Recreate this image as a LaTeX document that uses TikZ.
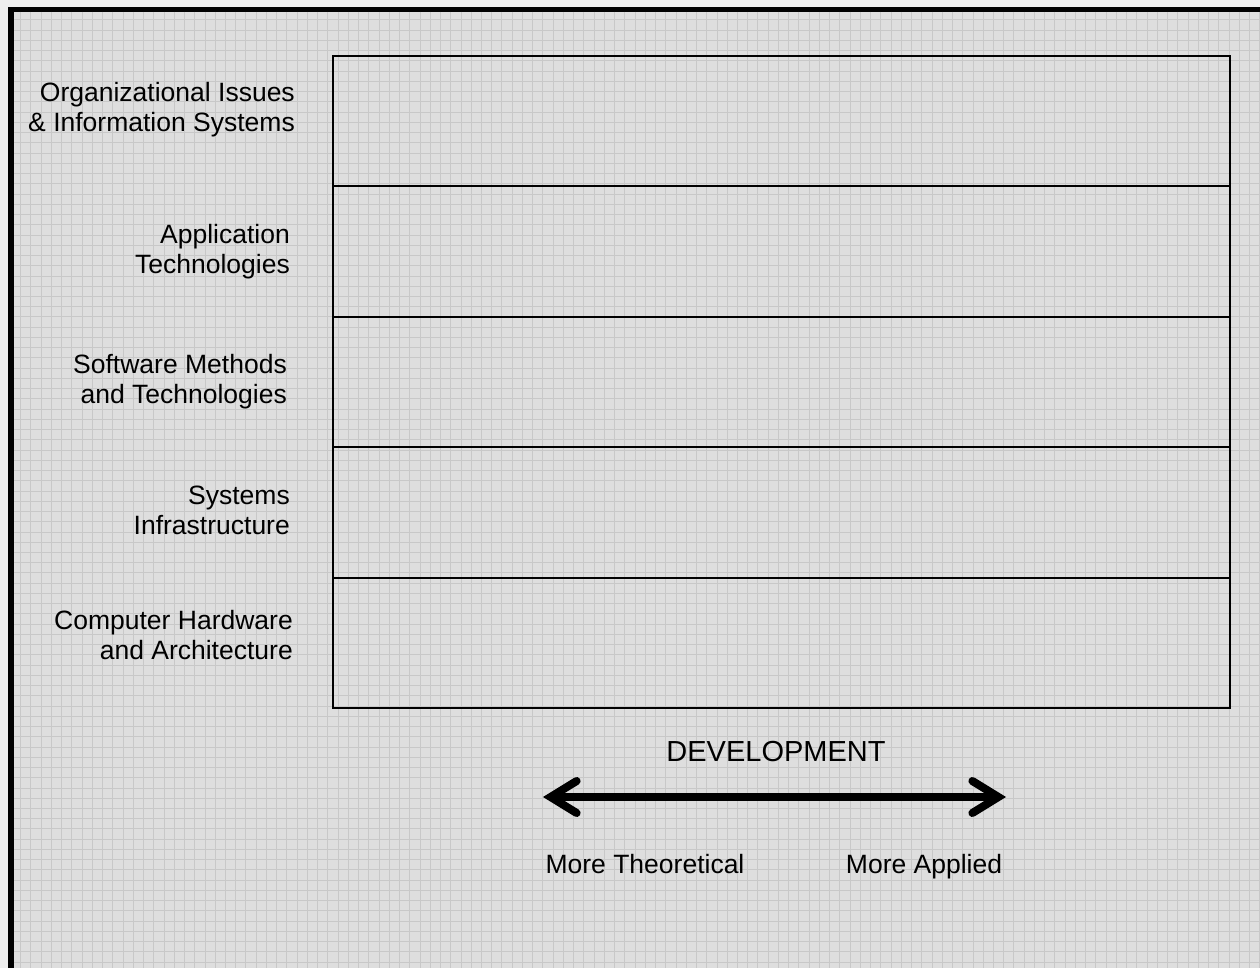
\documentclass[tikz,border=0pt]{standalone}
\usepackage{fontspec}
\setmainfont{Liberation Sans}
\usetikzlibrary{arrows.meta,positioning}
\definecolor{paper}{RGB}{222,222,222}
\definecolor{gridgray}{RGB}{200,200,200}
\definecolor{outside}{RGB}{238,238,238}
\begin{document}
\begin{tikzpicture}
        [x=1pt, y=-1pt,
        fieldrow/.style={draw, line width=2pt, minimum width=897pt, minimum height=130.4pt, inner sep=0pt, outer sep=0pt},
        fieldname/.style={align=right, anchor=east, inner sep=0pt, font=\fontsize{26.5}{30}\selectfont},
        axisword/.style={anchor=base, inner sep=0pt, font=\fontsize{26.5}{30}\selectfont},
        gridline/.style={draw=gridgray, line width=1pt}]
        \useasboundingbox (0,0) rectangle (1260,968);
        % paper, frame and grid
        \fill[outside] (0,0) rectangle (1260,968);
        \fill[black] (8,7) rectangle (1260,968);
        \fill[paper] (14,12) rectangle (1260,968);
        \begin{scope}
            \clip (14,12) rectangle (1260,968);
            \foreach \i in {0,...,122} \draw[gridline] (10.46+10.24*\i,12) -- ++(0,956);
            \foreach \j in {1,...,93} \draw[gridline] (14,9.76+10.24*\j) -- ++(1246,0);
        \end{scope}

        % the five fields
        \node[fieldrow] (org) at (781.5,121.2) {};
        \node[fieldrow, below=0pt of org] (app) {};
        \node[fieldrow, below=0pt of app] (soft) {};
        \node[fieldrow, below=0pt of soft] (sys) {};
        \node[fieldrow, below=0pt of sys] (hw) {};

        \node[fieldname] (orgL) at (295,110) {Organizational Issues\\\& Information Systems};
        \node[fieldname] (appL) at (290,252) {Application\\Technologies};
        \node[fieldname] (softL) at (287,382) {Software Methods\\and Technologies};
        \node[fieldname] (sysL) at (290,510) {Systems\\Infrastructure};
        \node[fieldname] (hwL) at (293,635) {Computer Hardware\\and Architecture};

        % development axis
        \node[axisword, font=\fontsize{29}{32}\selectfont] (dev) at (776,761) {DEVELOPMENT};
        \coordinate (theoEnd) at (543,797);
        \coordinate (applEnd) at (1006,797);
        \draw[line width=8pt, {Straight Barb[length=26pt, width=32pt, line cap=round]}-{Straight Barb[length=26pt, width=32pt, line cap=round]}] (theoEnd) -- (applEnd);
        \node[axisword] (theo) at (645,873) {More Theoretical};
        \node[axisword] (appl) at (924,873) {More Applied};
\end{tikzpicture}
\end{document}
